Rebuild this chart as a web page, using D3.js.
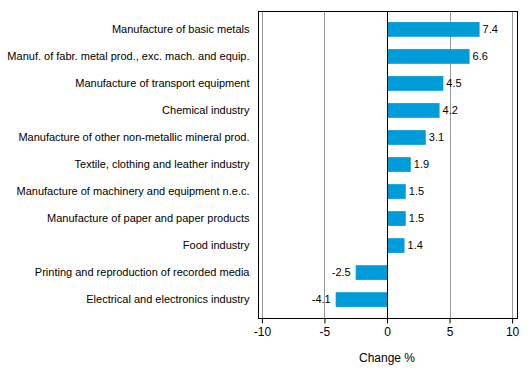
<!DOCTYPE html>
<html>
<head>
<meta charset="utf-8">
<script src="https://cdn.jsdelivr.net/npm/d3@7"></script>
<style>
  body { margin: 0; background: #fff; }
  svg text { font-family: Arial, "Liberation Sans", sans-serif; fill: #000; }
</style>
</head>
<body>
<div id="chart"></div>
<script>
// ====== Change % by industry ======

var industries = [
    'Manufacture of basic metals',
    'Manuf. of fabr. metal prod., exc. mach. and equip.',
    'Manufacture of transport equipment',
    'Chemical industry',
    'Manufacture of other non-metallic mineral prod.',
    'Textile, clothing and leather industry',
    'Manufacture of machinery and equipment n.e.c.',
    'Manufacture of paper and paper products',
    'Food industry',
    'Printing and reproduction of recorded media',
    'Electrical and electronics industry'
];
var changes = [7.4, 6.6, 4.5, 4.2, 3.1, 1.9, 1.5, 1.5, 1.4, -2.5, -4.1];
var xTicks = [-10, -5, 0, 5, 10];
var axisTitle = 'Change %';

var width = 529,
    height = 377,
    box = {'left': 257.5, 'right': 516.5, 'top': 11, 'bottom': 318};

// plain hyphen for the minus sign, like the original
var fmtVal = d3.formatLocale({decimal: '.', thousands: ',', grouping: [3], currency: ['', ''], minus: '-'}).format('.1f');
var fmtTick = d3.formatLocale({decimal: '.', thousands: ',', grouping: [3], currency: ['', ''], minus: '-'}).format('d');

var svg = d3.select('#chart').append('svg')
    .attr('width', width)
    .attr('height', height);

// x scale: box is padded a little beyond -10..10
var x = d3.scaleLinear()
    .domain([-10.35, 10.35])
    .range([box.left, box.right]);

var y = d3.scaleBand()
    .domain(industries)
    .range([box.top, box.bottom])
    .paddingInner(0.455)
    .paddingOuter(0.41);

// Gridlines
svg.append('g')
    .selectAll('line')
    .data(xTicks.filter(function(d) { return d !== 0; }))
  .enter().append('line')
    .attr('x1', function(d) { return Math.round(x(d)) + 0.5; })
    .attr('x2', function(d) { return Math.round(x(d)) + 0.5; })
    .attr('y1', box.top)
    .attr('y2', box.bottom)
    .attr('stroke', '#999')
    .attr('stroke-width', 1);

// Bars
svg.append('g')
    .selectAll('rect')
    .data(changes)
  .enter().append('rect')
    .attr('x', function(d) { return x(Math.min(0, d)); })
    .attr('y', function(d, i) { return y(industries[i]); })
    .attr('width', function(d) { return Math.abs(x(d) - x(0)); })
    .attr('height', y.bandwidth())
    .attr('fill', '#009cd9');

// Zero line
svg.append('line')
    .attr('x1', Math.round(x(0)) + 0.5)
    .attr('x2', Math.round(x(0)) + 0.5)
    .attr('y1', box.top)
    .attr('y2', box.bottom)
    .attr('stroke', '#000');

// Plot frame
svg.append('rect')
    .attr('x', Math.round(box.left) + 0.5)
    .attr('y', box.top + 0.5)
    .attr('width', Math.round(box.right - box.left))
    .attr('height', box.bottom - box.top)
    .attr('fill', 'none')
    .attr('stroke', '#000');

// Value labels
svg.append('g')
    .selectAll('text')
    .data(changes)
  .enter().append('text')
    .attr('x', function(d) { return d >= 0 ? x(d) + 3 : x(d) - 5; })
    .attr('y', function(d, i) { return y(industries[i]) + y.bandwidth() / 2; })
    .attr('dy', '0.35em')
    .attr('text-anchor', function(d) { return d >= 0 ? 'start' : 'end'; })
    .style('font-size', '11px')
    .text(function(d) { return fmtVal(d); });

// Category labels
svg.append('g')
    .selectAll('text')
    .data(industries)
  .enter().append('text')
    .attr('x', box.left - 8)
    .attr('y', function(d) { return y(d) + y.bandwidth() / 2; })
    .attr('dy', '0.35em')
    .attr('text-anchor', 'end')
    .style('font-size', '11px')
    .text(function(d) { return d; });

// X axis
var xAxis = d3.axisBottom(x)
    .tickValues(xTicks)
    .tickSize(5)
    .tickPadding(4)
    .tickFormat(fmtTick);

var gx = svg.append('g')
    .attr('transform', 'translate(0,' + (box.bottom + 0.5) + ')')
    .call(xAxis);
gx.select('.domain').remove();
gx.selectAll('.tick line').attr('stroke', '#000');
gx.selectAll('.tick text')
    .style('font-size', '12px')
    .style('font-family', 'Arial, "Liberation Sans", sans-serif')
    .attr('fill', '#000');

svg.append('text')
    .attr('x', x(0))
    .attr('y', 358)
    .attr('dy', '0.35em')
    .attr('text-anchor', 'middle')
    .style('font-size', '12px')
    .text(axisTitle);
</script>
</body>
</html>
